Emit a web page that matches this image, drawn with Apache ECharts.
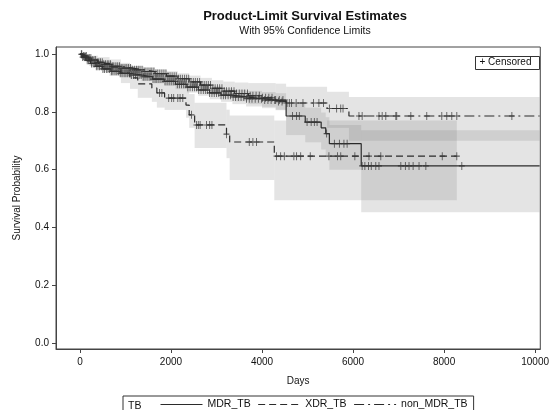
<!DOCTYPE html>
<html>
<head>
<meta charset="utf-8">
<script src="https://cdn.jsdelivr.net/npm/echarts@6/dist/echarts.min.js"></script>
<style>
  html, body { margin: 0; padding: 0; background: #fff; }
  #chart { width: 552px; height: 410px; }
</style>
</head>
<body>
<div id="chart"></div>
<script>
// axis ticks
const xTicks = [0, 2000, 4000, 6000, 8000, 10000]
const yTicks = [0, 0.2, 0.4, 0.6, 0.8, 1.0]

// MDR_TB: event times, survival, 95% limits
const mdrTime = [0, 50, 130, 230, 350, 500, 680, 880, 1100, 1350, 1600, 1850, 2100, 2350, 2600, 2850, 3100, 3350, 3650, 4000, 4300, 4530, 4950, 5300, 5400, 5480, 6180]
const mdrSurv = [1, 0.990, 0.979, 0.968, 0.958, 0.949, 0.941, 0.934, 0.928, 0.922, 0.914, 0.906, 0.896, 0.886, 0.876, 0.866, 0.858, 0.852, 0.846, 0.841, 0.836, 0.786, 0.765, 0.745, 0.725, 0.690, 0.613]
const mdrLo = [1, 0.984, 0.972, 0.960, 0.949, 0.939, 0.930, 0.922, 0.915, 0.908, 0.899, 0.890, 0.879, 0.867, 0.856, 0.844, 0.835, 0.827, 0.819, 0.813, 0.806, 0.720, 0.695, 0.670, 0.645, 0.600, 0.453]
const mdrHi = [1, 0.996, 0.987, 0.977, 0.968, 0.960, 0.953, 0.947, 0.942, 0.937, 0.930, 0.923, 0.914, 0.906, 0.897, 0.889, 0.882, 0.877, 0.873, 0.869, 0.865, 0.830, 0.815, 0.798, 0.782, 0.755, 0.737]
const mdrEnd = 10100
const mdrCens = [30, 60, 95, 125, 160, 190, 225, 255, 290, 325, 360, 395, 430, 470, 505, 540, 580, 615, 650, 690, 725, 770, 810, 850, 885, 925, 970, 1010, 1050, 1090, 1130, 1175, 1220, 1260, 1300, 1345, 1390, 1430, 1475, 1520, 1560, 1605, 1650, 1690, 1735, 1780, 1825, 1870, 1915, 1960, 2005, 2050, 2095, 2140, 2185, 2230, 2280, 2325, 2370, 2420, 2470, 2515, 2560, 2610, 2660, 2710, 2755, 2800, 2850, 2900, 2950, 3000, 3050, 3100, 3150, 3200, 3255, 3310, 3365, 3420, 3480, 3540, 3600, 3660, 3720, 3780, 3850, 3920, 3990, 4060, 4130, 4200, 4280, 4360, 4440, 4670, 4760, 4820, 4990, 5080, 5150, 5210, 5420, 5590, 5700, 5800, 5870, 6200, 6260, 6340, 6400, 6500, 6570, 7050, 7150, 7230, 7320, 7450, 7600, 8390]

// XDR_TB
const xdrTime = [0, 80, 200, 400, 650, 900, 1100, 1270, 1580, 1690, 1860, 2330, 2400, 2520, 3220, 3290, 4270]
const xdrSurv = [1, 0.990, 0.980, 0.968, 0.955, 0.935, 0.918, 0.897, 0.883, 0.866, 0.848, 0.824, 0.790, 0.755, 0.723, 0.696, 0.647]
const xdrLo = [1, 0.975, 0.960, 0.945, 0.925, 0.900, 0.880, 0.849, 0.835, 0.815, 0.807, 0.780, 0.745, 0.675, 0.640, 0.564, 0.494]
const xdrHi = [1, 1, 0.995, 0.990, 0.982, 0.970, 0.958, 0.940, 0.930, 0.918, 0.905, 0.888, 0.862, 0.832, 0.808, 0.788, 0.770]
const xdrEnd = 8280
const xdrCens = [1750, 1800, 1950, 2015, 2060, 2150, 2200, 2260, 2450, 2560, 2600, 2640, 2780, 2850, 2900, 3220, 3720, 3800, 3880, 4320, 4410, 4490, 4700, 4760, 4850, 5060, 5470, 5660, 5730, 6040, 6350, 6610, 7960, 8280]

// non_MDR_TB
const nonTime = [0, 60, 150, 250, 380, 520, 700, 900, 1150, 1400, 1650, 1900, 2150, 2400, 2650, 2900, 3150, 3400, 3700, 4000, 4300, 4530, 5430, 5910]
const nonSurv = [1, 0.994, 0.987, 0.980, 0.972, 0.965, 0.958, 0.952, 0.946, 0.940, 0.933, 0.924, 0.915, 0.904, 0.893, 0.882, 0.872, 0.864, 0.856, 0.849, 0.841, 0.831, 0.812, 0.786]
const nonLo = [1, 0.989, 0.980, 0.972, 0.963, 0.955, 0.947, 0.940, 0.933, 0.926, 0.918, 0.908, 0.897, 0.885, 0.872, 0.859, 0.847, 0.837, 0.827, 0.818, 0.808, 0.770, 0.745, 0.700]
const nonHi = [1, 0.998, 0.993, 0.987, 0.981, 0.975, 0.969, 0.964, 0.959, 0.954, 0.948, 0.941, 0.934, 0.926, 0.918, 0.910, 0.905, 0.902, 0.900, 0.900, 0.898, 0.887, 0.870, 0.852]
const nonEnd = 10100
const nonCens = [40, 75, 110, 140, 175, 205, 240, 270, 310, 345, 380, 415, 450, 490, 525, 560, 600, 635, 670, 710, 745, 790, 830, 870, 905, 945, 990, 1030, 1070, 1110, 1150, 1195, 1240, 1280, 1320, 1365, 1410, 1450, 1495, 1540, 1580, 1625, 1670, 1710, 1755, 1800, 1845, 1890, 1935, 1980, 2025, 2070, 2115, 2160, 2205, 2250, 2300, 2345, 2390, 2440, 2490, 2535, 2580, 2630, 2680, 2730, 2775, 2820, 2870, 2920, 2970, 3020, 3070, 3120, 3170, 3220, 3275, 3330, 3385, 3440, 3500, 3560, 3620, 3680, 3740, 3800, 3870, 3940, 4010, 4080, 4150, 4220, 4300, 4380, 4460, 4550, 4600, 4650, 4750, 4900, 5130, 5250, 5350, 5480, 5640, 5730, 5780, 6130, 6200, 6570, 6640, 6720, 6940, 6960, 7270, 7620, 7950, 8060, 8170, 8280, 9490]

const FONT = '"Liberation Sans", Arial, sans-serif'
const INK = '#2b2b2b'

function stepLine(time, surv, end) {
  const pts = time.map((t, i) => [t, surv[i]])
  pts.push([end, surv[surv.length - 1]])
  return pts
}

function bandRects(time, lo, hi, end) {
  return time.map((t, i) => [t, i + 1 < time.length ? time[i + 1] : end, lo[i], hi[i]])
}

function survAt(time, surv, t) {
  let s = surv[0]
  for (let i = 0; i < time.length; i++) {
    if (time[i] <= t) s = surv[i]
  }
  return s
}

function censPoints(cens, time, surv) {
  return cens.map(t => [t, survAt(time, surv, t)])
}

function renderBand(params, api) {
  const a = api.coord([api.value(0), api.value(3)])
  const b = api.coord([api.value(1), api.value(2)])
  const cs = params.coordSys
  const shape = echarts.graphic.clipRectByRect(
    { x: a[0], y: a[1], width: b[0] - a[0], height: b[1] - a[1] },
    { x: cs.x, y: cs.y, width: cs.width, height: cs.height }
  )
  return shape && { type: 'rect', shape, style: { fill: 'rgba(120,120,120,0.2)' } }
}

const plus = 'path://M5,0 L5,10 M2,5 L8,5'

function bandSeries(name, data) {
  return {
    name, type: 'custom', renderItem: renderBand, data,
    encode: { x: [0, 1], y: [2, 3] }, silent: true, z: 1
  }
}

function censSeries(name, data) {
  return {
    name, type: 'scatter', data, symbol: plus, symbolSize: [6, 8],
    itemStyle: { color: 'transparent', borderColor: '#333', borderWidth: 1 },
    silent: true, z: 4
  }
}

const chart = echarts.init(document.getElementById('chart'))

chart.setOption({
  animation: false,
  title: {
    text: 'Product-Limit Survival Estimates',
    subtext: 'With 95% Confidence Limits',
    left: 300, top: 5, textAlign: 'center', itemGap: 3,
    textStyle: { fontFamily: FONT, fontSize: 13, fontWeight: 'bold', color: '#111' },
    subtextStyle: { fontFamily: FONT, fontSize: 10.5, color: '#111' }
  },
  grid: { left: 56, right: 10, top: 47, bottom: 61, show: true, borderColor: '#444', borderWidth: 1 },
  legend: {
    data: ['MDR_TB', 'XDR_TB', 'non_MDR_TB'],
    left: 123, top: 396,
    padding: [3, 6, 3, 37],
    borderColor: '#333', borderWidth: 1,
    itemWidth: 42, itemHeight: 12, itemGap: 7,
    itemStyle: { opacity: 0 },
    lineStyle: { width: 1 },
    textStyle: { fontFamily: FONT, fontSize: 10.5, color: '#111' }
  },
  graphic: [
    { type: 'text', left: 128, top: 401, style: { text: 'TB', font: '10.5px ' + FONT, fill: '#111' } },
    {
      type: 'group', left: 475, top: 56,
      children: [
        { type: 'rect', shape: { x: 0, y: 0, width: 64, height: 13 }, style: { fill: '#fff', stroke: '#333', lineWidth: 1 } },
        { type: 'text', x: 4, y: 1, style: { text: '+ Censored', font: '10px ' + FONT, fill: '#111' } }
      ]
    }
  ],
  xAxis: {
    type: 'value', min: -526, max: 10114,
    name: 'Days', nameLocation: 'middle', nameGap: 27,
    nameTextStyle: { fontFamily: FONT, fontSize: 10, color: '#111' },
    axisLine: { onZero: false, lineStyle: { color: '#444' } },
    axisTick: { show: true, customValues: xTicks, length: 4, lineStyle: { color: '#444' } },
    axisLabel: { customValues: xTicks, fontFamily: FONT, fontSize: 10, color: '#111', margin: 8, formatter: v => String(v) },
    splitLine: { show: false }
  },
  yAxis: {
    type: 'value', min: -0.021, max: 1.025,
    name: 'Survival Probability', nameLocation: 'middle', nameGap: 34, nameRotate: 90,
    nameTextStyle: { fontFamily: FONT, fontSize: 10, color: '#111' },
    axisLine: { onZero: false, lineStyle: { color: '#444' } },
    axisTick: { show: true, customValues: yTicks, length: 4, lineStyle: { color: '#444' } },
    axisLabel: { customValues: yTicks, fontFamily: FONT, fontSize: 10, color: '#111', margin: 7, formatter: v => v.toFixed(1) },
    splitLine: { show: false }
  },
  series: [
    bandSeries('MDR_TB band', bandRects(mdrTime, mdrLo, mdrHi, mdrEnd)),
    bandSeries('XDR_TB band', bandRects(xdrTime, xdrLo, xdrHi, xdrEnd)),
    bandSeries('non_MDR_TB band', bandRects(nonTime, nonLo, nonHi, nonEnd)),
    {
      name: 'MDR_TB', type: 'line', step: 'end', data: stepLine(mdrTime, mdrSurv, mdrEnd),
      symbol: 'none', lineStyle: { color: INK, width: 1.2, type: 'solid' }, itemStyle: { color: INK }, z: 3
    },
    {
      name: 'XDR_TB', type: 'line', step: 'end', data: stepLine(xdrTime, xdrSurv, xdrEnd),
      symbol: 'none', lineStyle: { color: INK, width: 1.2, type: [7, 4] }, itemStyle: { color: INK }, z: 3
    },
    {
      name: 'non_MDR_TB', type: 'line', step: 'end', data: stepLine(nonTime, nonSurv, nonEnd),
      symbol: 'none', lineStyle: { color: INK, width: 1.2, type: [10, 4, 2, 4] }, itemStyle: { color: INK }, z: 3
    },
    censSeries('MDR_TB censored', censPoints(mdrCens, mdrTime, mdrSurv)),
    censSeries('XDR_TB censored', censPoints(xdrCens, xdrTime, xdrSurv)),
    censSeries('non_MDR_TB censored', censPoints(nonCens, nonTime, nonSurv))
  ]
})
</script>
</body>
</html>
